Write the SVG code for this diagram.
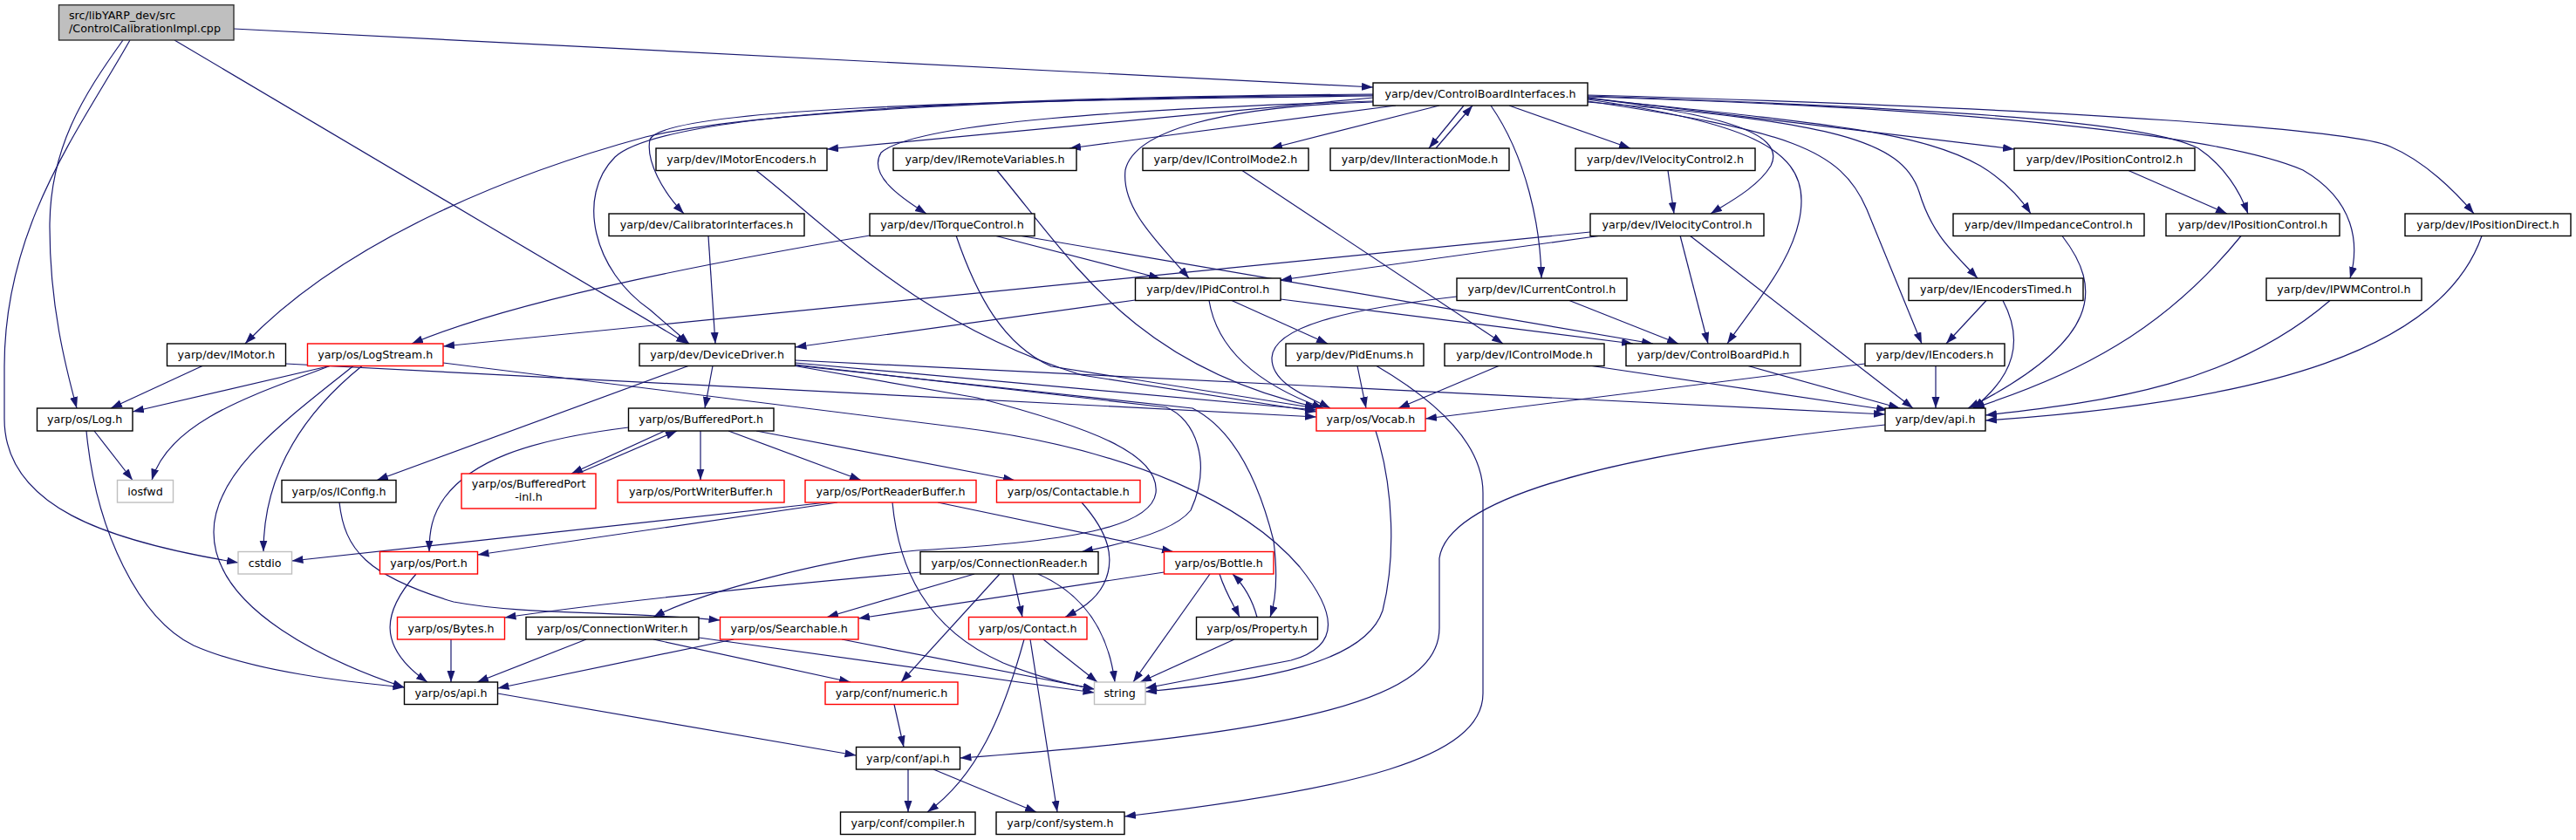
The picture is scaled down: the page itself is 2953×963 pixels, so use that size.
<svg xmlns="http://www.w3.org/2000/svg" width="2953" height="963" viewBox="0 0 2953 963">
<defs>
<style>
.n rect{fill:#fff;stroke:#000;stroke-width:1.4}
.n.r rect{stroke:#ff0000}
.n.g rect{stroke:#bfbfbf}
.n.root rect{fill:#bfbfbf;stroke:#333}
.n text{font-family:"DejaVu Sans","Liberation Sans",sans-serif;font-size:12.7px;fill:#000;text-anchor:middle}
.n.root text{text-anchor:start}
#edges path{fill:none;stroke:#191970;stroke-width:1.2;marker-end:url(#a)}
</style>
<marker id="a" markerWidth="14" markerHeight="10" refX="13" refY="4.5" orient="auto" markerUnits="userSpaceOnUse"><path d="M0,0 L13,4.5 L0,9 z" fill="#191970"/></marker>
</defs>
<rect width="2953" height="963" fill="#fff"/>
<g id="edges">
<path d="M268,33 L1574,100"/>
<path d="M200,46 L788,394"/>
<path d="M141,46 C95,110 57,170 57,260 C57,350 75,420 88,468"/>
<path d="M149,46 C90,150 5,260 5,420 L5,480 C5,580 120,620 273,645"/>
<path d="M1574,112 L948,171"/>
<path d="M1600,121 L1226,170"/>
<path d="M1650,121 L1457,170"/>
<path d="M1678,121 L1638,170"/>
<path d="M1646,170 L1688,121"/>
<path d="M1730,121 L1869,170"/>
<path d="M1709,121 C1750,180 1766,260 1767,319"/>
<path d="M1820,112 C1960,130 2050,150 2030,190 C2015,215 1980,233 1961,245"/>
<path d="M1820,114 C2000,140 2065,170 2065,230 C2065,290 2010,350 1980,394"/>
<path d="M1820,116 C2050,150 2110,170 2140,240 C2165,300 2185,350 2203,394"/>
<path d="M1820,117 C2100,140 2180,160 2200,220 C2215,270 2240,290 2267,319"/>
<path d="M1820,113 C2080,140 2200,150 2270,190 C2295,205 2315,225 2328,245"/>
<path d="M1820,112 L2309,171"/>
<path d="M1820,110 C2250,125 2460,140 2520,170 C2550,190 2568,220 2577,245"/>
<path d="M1820,111 C2300,125 2560,160 2640,195 C2700,230 2705,280 2694,319"/>
<path d="M1820,109 C2400,125 2700,150 2740,168 C2780,185 2815,220 2836,245"/>
<path d="M1574,116 C1300,125 1050,140 1010,175 C995,200 1030,225 1062,245"/>
<path d="M1574,117 C1400,122 1300,150 1290,195 C1285,240 1330,280 1363,319"/>
<path d="M1574,110 C1100,115 760,125 745,160 C740,185 760,220 784,245"/>
<path d="M1574,109 C1150,112 850,130 740,157 C600,195 400,270 281,394"/>
<path d="M1574,108 C1100,112 760,130 705,180 C660,225 680,310 745,355 L790,394"/>
<path d="M997,270 C850,295 600,340 472,394"/>
<path d="M1140,270 L1330,319"/>
<path d="M1168,270 L1895,394"/>
<path d="M1096,270 C1120,340 1150,395 1205,420 L1509,468"/>
<path d="M1823,266 L508,397"/>
<path d="M1836,270 L1468,321"/>
<path d="M1926,270 L1958,394"/>
<path d="M1937,270 L2193,468"/>
<path d="M1912,195.5 L1919,245"/>
<path d="M2440,195.5 L2553,245"/>
<path d="M1799,344.5 L1924,394"/>
<path d="M1670,340 C1540,355 1460,375 1458,410 C1457,440 1500,455 1525,468"/>
<path d="M1301.5,344 L911.5,398"/>
<path d="M1468,343 L1872,394"/>
<path d="M1412,344.5 L1522,394"/>
<path d="M1386,344.5 C1395,400 1440,440 1517,468"/>
<path d="M1556,419.5 L1566,468"/>
<path d="M1578,419.5 C1630,450 1700,500 1700,565 L1700,795 C1700,870 1550,905 1289,936"/>
<path d="M1718,419.5 L1603,468"/>
<path d="M1825,419.5 L2164,470"/>
<path d="M1424,195.5 L1723,394"/>
<path d="M2004,419.5 L2178,468"/>
<path d="M2138,417 L1634,480"/>
<path d="M2219,419.5 L2219,468"/>
<path d="M2277,344.5 L2231,394"/>
<path d="M2296,344.5 C2320,390 2310,430 2262,468"/>
<path d="M2364,270.5 C2410,330 2410,390 2256,468"/>
<path d="M2569,270.5 C2480,380 2380,430 2262,468"/>
<path d="M2671,344.5 C2560,440 2420,460 2276,476"/>
<path d="M2845,270.5 C2800,400 2600,460 2276,482"/>
<path d="M2161,487 C1850,520 1660,570 1650,640 L1650,720 C1650,800 1500,840 1100.5,869"/>
<path d="M1577,494 C1598,560 1600,640 1585,700 C1565,760 1450,780 1313,793"/>
<path d="M1143,195.5 C1230,300 1300,420 1509,467"/>
<path d="M867,195.5 C950,260 1050,370 1240,430 L1509,472"/>
<path d="M232,419.5 L127,468"/>
<path d="M327.5,417 C800,440 1200,462 1509,478"/>
<path d="M378,419.5 L152,472"/>
<path d="M378,419.5 C300,450 195,480 174,550.5"/>
<path d="M405,419.5 C330,480 245,540 245,610 C245,700 380,760 463.5,788"/>
<path d="M415,419.5 C340,480 302,550 302,632.5"/>
<path d="M508,416 L1100,490 C1300,515 1430,580 1490,650 C1530,700 1540,740 1480,757 L1313,789"/>
<path d="M108,494 L152,550.5"/>
<path d="M99,494 C110,610 160,710 222,740 C290,770 400,782 463.5,788"/>
<path d="M789,419.5 L432,550.5"/>
<path d="M817,419.5 L808,468"/>
<path d="M911.5,413 L2161,475"/>
<path d="M911.5,416 L1509,470"/>
<path d="M911.5,418 L1337,467 C1370,480 1390,530 1365,585 C1345,610 1280,625 1240,632.5"/>
<path d="M911.5,419 L1367,468 C1410,490 1440,540 1460,620 C1465,660 1462,690 1456,707.5"/>
<path d="M911.5,419.5 L1120,456 C1250,490 1330,520 1325,565 C1320,600 1250,620 1051,631 C950,640 800,680 749,707.5"/>
<path d="M812,270.5 L820,394"/>
<path d="M762,494 L655,543"/>
<path d="M662,543 L776,494"/>
<path d="M803,494 L803,550.5"/>
<path d="M835,494 L987,550.5"/>
<path d="M867,494 L1163,550.5"/>
<path d="M720.5,490 C600,505 540,530 510,570 C495,590 492,610 492,632.5"/>
<path d="M960,576 L547.5,636"/>
<path d="M948,576 L334.5,643"/>
<path d="M1075,576 L1345,632.5"/>
<path d="M1023,576 C1030,650 1060,720 1150,760 C1200,780 1230,785 1254.5,790"/>
<path d="M1240,576 C1270,610 1280,640 1265,670 C1255,690 1235,700 1221,707.5"/>
<path d="M389,576 C395,630 420,660 520,690 C600,705 700,700 825.5,711"/>
<path d="M1055,656 C900,670 700,690 578.5,708"/>
<path d="M1117,658 L948,707.5"/>
<path d="M1146,658 L1033,782"/>
<path d="M1161,658 L1172,707.5"/>
<path d="M1190,658 C1240,680 1270,720 1278,782"/>
<path d="M1334.5,656 L984,709"/>
<path d="M1387,658 L1299,782"/>
<path d="M1398,658 C1405,680 1415,695 1421,707.5"/>
<path d="M1441,707.5 C1435,685 1425,670 1413,658"/>
<path d="M1415,733 L1307,782"/>
<path d="M672,733 L547,782"/>
<path d="M749,733 L975,782"/>
<path d="M801,731 L1254.5,794"/>
<path d="M841,733 L570.5,789"/>
<path d="M965,733 L1254.5,790"/>
<path d="M517,733 L517,782"/>
<path d="M477,658 C440,700 430,740 490,782"/>
<path d="M1174,733 C1150,820 1120,890 1063,931"/>
<path d="M1181,733 L1212,931"/>
<path d="M1196,733 L1258,782"/>
<path d="M1025,807.5 L1036,856.5"/>
<path d="M570.5,795 L981.5,866"/>
<path d="M1041,882 L1041,931"/>
<path d="M1070,882 L1188,931"/>
</g>
<g id="n_root" class="n root"><rect x="67.5" y="5.7" width="200.5" height="40.3"/><text x="79" y="22">src/libYARP_dev/src</text><text x="79" y="37">/ControlCalibrationImpl.cpp</text></g>
<g id="n_cbi" class="n"><rect x="1574" y="95" width="246" height="26"/><text x="1697" y="112.4">yarp/dev/ControlBoardInterfaces.h</text></g>
<g id="n_imotorencoders" class="n"><rect x="752" y="170" width="196" height="25.5"/><text x="850" y="187.2">yarp/dev/IMotorEncoders.h</text></g>
<g id="n_iremotevariables" class="n"><rect x="1024" y="170" width="210" height="25.5"/><text x="1129" y="187.2">yarp/dev/IRemoteVariables.h</text></g>
<g id="n_icontrolmode2" class="n"><rect x="1310" y="170" width="190" height="25.5"/><text x="1405" y="187.2">yarp/dev/IControlMode2.h</text></g>
<g id="n_iinteractionmode" class="n"><rect x="1525" y="170" width="205" height="25.5"/><text x="1627.5" y="187.2">yarp/dev/IInteractionMode.h</text></g>
<g id="n_ivelocitycontrol2" class="n"><rect x="1806" y="170" width="206" height="25.5"/><text x="1909" y="187.2">yarp/dev/IVelocityControl2.h</text></g>
<g id="n_ipositioncontrol2" class="n"><rect x="2309" y="170" width="207" height="25.5"/><text x="2412.5" y="187.2">yarp/dev/IPositionControl2.h</text></g>
<g id="n_calibrator" class="n"><rect x="698" y="245" width="224" height="25.5"/><text x="810" y="262.2">yarp/dev/CalibratorInterfaces.h</text></g>
<g id="n_itorquecontrol" class="n"><rect x="997" y="245" width="189" height="25.5"/><text x="1091.5" y="262.2">yarp/dev/ITorqueControl.h</text></g>
<g id="n_ivelocitycontrol" class="n"><rect x="1823" y="245" width="199" height="25.5"/><text x="1922.5" y="262.2">yarp/dev/IVelocityControl.h</text></g>
<g id="n_iimpedancecontrol" class="n"><rect x="2239" y="245" width="219" height="25.5"/><text x="2348.5" y="262.2">yarp/dev/IImpedanceControl.h</text></g>
<g id="n_ipositioncontrol" class="n"><rect x="2483" y="245" width="199" height="25.5"/><text x="2582.5" y="262.2">yarp/dev/IPositionControl.h</text></g>
<g id="n_ipositiondirect" class="n"><rect x="2757" y="245" width="190" height="25.5"/><text x="2852" y="262.2">yarp/dev/IPositionDirect.h</text></g>
<g id="n_ipidcontrol" class="n"><rect x="1301.5" y="319" width="166.5" height="25.5"/><text x="1384.7" y="336.2">yarp/dev/IPidControl.h</text></g>
<g id="n_icurrentcontrol" class="n"><rect x="1670" y="319" width="195" height="25.5"/><text x="1767.5" y="336.2">yarp/dev/ICurrentControl.h</text></g>
<g id="n_iencoderstimed" class="n"><rect x="2188" y="319" width="200" height="25.5"/><text x="2288" y="336.2">yarp/dev/IEncodersTimed.h</text></g>
<g id="n_ipwmcontrol" class="n"><rect x="2598" y="319" width="178" height="25.5"/><text x="2687" y="336.2">yarp/dev/IPWMControl.h</text></g>
<g id="n_imotor" class="n"><rect x="191.5" y="394" width="136" height="25.5"/><text x="259.5" y="411.2">yarp/dev/IMotor.h</text></g>
<g id="n_logstream" class="n r"><rect x="352.5" y="394" width="155.5" height="25.5"/><text x="430.2" y="411.2">yarp/os/LogStream.h</text></g>
<g id="n_devicedriver" class="n"><rect x="733" y="394" width="178.5" height="25.5"/><text x="822.2" y="411.2">yarp/dev/DeviceDriver.h</text></g>
<g id="n_pidenums" class="n"><rect x="1474" y="394" width="158" height="25.5"/><text x="1553" y="411.2">yarp/dev/PidEnums.h</text></g>
<g id="n_icontrolmode" class="n"><rect x="1656" y="394" width="183" height="25.5"/><text x="1747.5" y="411.2">yarp/dev/IControlMode.h</text></g>
<g id="n_controlboardpid" class="n"><rect x="1864" y="394" width="200" height="25.5"/><text x="1964" y="411.2">yarp/dev/ControlBoardPid.h</text></g>
<g id="n_iencoders" class="n"><rect x="2138" y="394" width="160" height="25.5"/><text x="2218" y="411.2">yarp/dev/IEncoders.h</text></g>
<g id="n_log" class="n"><rect x="42.5" y="468" width="109.5" height="26"/><text x="97.2" y="485.4">yarp/os/Log.h</text></g>
<g id="n_bufferedport" class="n"><rect x="720.5" y="468" width="166.5" height="26"/><text x="803.7" y="485.4">yarp/os/BufferedPort.h</text></g>
<g id="n_vocab" class="n r"><rect x="1509" y="468" width="125" height="26"/><text x="1571.5" y="485.4">yarp/os/Vocab.h</text></g>
<g id="n_devapi" class="n"><rect x="2161" y="468" width="115" height="26"/><text x="2218.5" y="485.4">yarp/dev/api.h</text></g>
<g id="n_iosfwd" class="n g"><rect x="134.5" y="550.5" width="64" height="25.5"/><text x="166.5" y="567.7">iosfwd</text></g>
<g id="n_iconfig" class="n"><rect x="323" y="550.5" width="131" height="25.5"/><text x="388.5" y="567.7">yarp/os/IConfig.h</text></g>
<g id="n_bpinl" class="n r"><rect x="529" y="543" width="154" height="40"/><text x="606" y="558.5">yarp/os/BufferedPort</text><text x="606" y="573.5">-inl.h</text></g>
<g id="n_portwriterbuffer" class="n r"><rect x="708" y="550.5" width="191" height="25.5"/><text x="803.5" y="567.7">yarp/os/PortWriterBuffer.h</text></g>
<g id="n_portreaderbuffer" class="n r"><rect x="923" y="550.5" width="196" height="25.5"/><text x="1021" y="567.7">yarp/os/PortReaderBuffer.h</text></g>
<g id="n_contactable" class="n r"><rect x="1142.5" y="550.5" width="164.5" height="25.5"/><text x="1224.7" y="567.7">yarp/os/Contactable.h</text></g>
<g id="n_cstdio" class="n g"><rect x="273" y="632.5" width="61.5" height="25.5"/><text x="303.7" y="649.7">cstdio</text></g>
<g id="n_port" class="n r"><rect x="435.5" y="632.5" width="112" height="25.5"/><text x="491.5" y="649.7">yarp/os/Port.h</text></g>
<g id="n_connectionreader" class="n"><rect x="1055" y="632.5" width="204" height="25.5"/><text x="1157" y="649.7">yarp/os/ConnectionReader.h</text></g>
<g id="n_bottle" class="n r"><rect x="1334.5" y="632.5" width="125.5" height="25.5"/><text x="1397.2" y="649.7">yarp/os/Bottle.h</text></g>
<g id="n_bytes" class="n r"><rect x="455.5" y="707.5" width="123" height="25.5"/><text x="517" y="724.7">yarp/os/Bytes.h</text></g>
<g id="n_connectionwriter" class="n"><rect x="603" y="707.5" width="198" height="25.5"/><text x="702" y="724.7">yarp/os/ConnectionWriter.h</text></g>
<g id="n_searchable" class="n r"><rect x="825.5" y="707.5" width="158.5" height="25.5"/><text x="904.7" y="724.7">yarp/os/Searchable.h</text></g>
<g id="n_contact" class="n r"><rect x="1110.5" y="707.5" width="135.5" height="25.5"/><text x="1178.2" y="724.7">yarp/os/Contact.h</text></g>
<g id="n_property" class="n"><rect x="1371.5" y="707.5" width="139" height="25.5"/><text x="1441" y="724.7">yarp/os/Property.h</text></g>
<g id="n_osapi" class="n"><rect x="463.5" y="782" width="107" height="25.5"/><text x="517" y="799.2">yarp/os/api.h</text></g>
<g id="n_numeric" class="n r"><rect x="946" y="782" width="152" height="25.5"/><text x="1022" y="799.2">yarp/conf/numeric.h</text></g>
<g id="n_string" class="n g"><rect x="1254.5" y="782" width="58.5" height="25.5"/><text x="1283.7" y="799.2">string</text></g>
<g id="n_confapi" class="n"><rect x="981.5" y="856.5" width="119" height="25.5"/><text x="1041" y="873.7">yarp/conf/api.h</text></g>
<g id="n_compiler" class="n"><rect x="963.5" y="931" width="154.5" height="25.5"/><text x="1040.7" y="948.2">yarp/conf/compiler.h</text></g>
<g id="n_system" class="n"><rect x="1142" y="931" width="147" height="25.5"/><text x="1215.5" y="948.2">yarp/conf/system.h</text></g>
</svg>
